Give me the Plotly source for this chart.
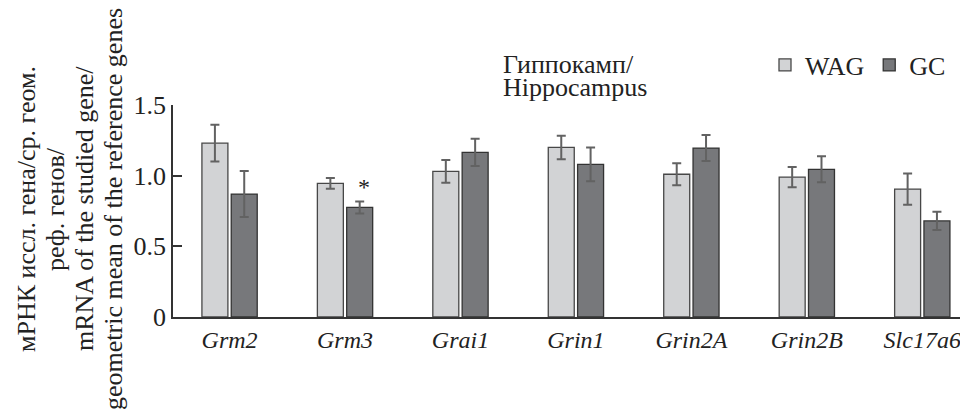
import plotly.graph_objects as go

genes = ["Grm2", "Grm3", "Grai1", "Grin1", "Grin2A", "Grin2B", "Slc17a6"]
wag = [1.23, 0.945, 1.03, 1.20, 1.01, 0.99, 0.905]
wag_err = [0.13, 0.038, 0.08, 0.083, 0.078, 0.072, 0.11]
gc = [0.87, 0.775, 1.165, 1.08, 1.195, 1.045, 0.68]
gc_err = [0.163, 0.042, 0.097, 0.12, 0.092, 0.092, 0.065]
yticks = [0, 0.5, 1.0, 1.5]
ytick_labels = ["0", "0.5", "1.0", "1.5"]
ylabel_lines = [
    "мРНК иссл. гена/ср. геом.",
    "реф. генов/",
    "mRNA of the studied gene/",
    "geometric mean of the reference genes",
]
title_lines = ["Гиппокамп/", "Hippocampus"]

# page body has an 8px margin: figure drawn at (8, 8) inside a 968x412 window
OFF = 8
W, H = 968 - OFF, 412 - OFF
ML, MR, MT, MB = 173 - OFF, 0, 105 - OFF, 95
PW, PH = W - ML - MR, H - MT - MB


def px_x(p):
    # p: pixel in window coordinates
    return (p - OFF - ML) / PW


def px_y(p):
    return (H - MB - (p - OFF)) / PH


FONT = "Liberation Serif"

fig = go.Figure()
fig.add_trace(go.Bar(
    name="WAG", x=genes, y=wag,
    marker=dict(color="#d2d3d5", line=dict(color="#474747", width=1.3)),
    error_y=dict(type="data", array=wag_err, color="#626262", thickness=2, width=4.5),
))
fig.add_trace(go.Bar(
    name="GC", x=genes, y=gc,
    marker=dict(color="#77787b", line=dict(color="#333333", width=1.3)),
    error_y=dict(type="data", array=gc_err, color="#626262", thickness=2, width=4.5),
))

annotations = []
# significance mark
annotations.append(dict(x=1.16, y=gc[1] + gc_err[1] + 0.10, xref="x", yref="y",
                        text="*", showarrow=False,
                        font=dict(family=FONT, size=24, color="#222")))
# title lines
for txt, yc in zip(title_lines, [64, 87.5]):
    annotations.append(dict(x=px_x(501), y=px_y(yc), xref="paper", yref="paper",
                            xanchor="left", yanchor="middle", text=txt, showarrow=False,
                            font=dict(family=FONT, size=26, color="#222")))
# y-axis title lines
for txt, xc in zip(ylabel_lines, [26, 55, 84, 113]):
    annotations.append(dict(x=px_x(xc), y=px_y(209), xref="paper", yref="paper",
                            xanchor="center", yanchor="middle", text=txt, textangle=-90,
                            showarrow=False, font=dict(family=FONT, size=26, color="#222")))

fig.update_layout(
    width=W, height=H, autosize=False,
    margin=dict(l=ML, r=MR, t=MT, b=MB, pad=0),
    paper_bgcolor="white", plot_bgcolor="white",
    barmode="group", bargap=0.492, bargroupgap=0.114,
    font=dict(family=FONT, size=26, color="#222"),
    showlegend=True,
    legend=dict(orientation="h", x=px_x(765), xanchor="left", y=px_y(65), yanchor="middle",
                font=dict(family=FONT, size=26, color="#222"), bgcolor="rgba(0,0,0,0)",
                itemclick=False, traceorder="normal"),
    xaxis=dict(type="category", range=[-0.49, 6.396], showline=True, linecolor="#333",
               linewidth=1.5, ticks="", showgrid=False, zeroline=False,
               tickfont=dict(family=FONT, size=24, style="italic", color="#222")),
    yaxis=dict(range=[0, 1.5], tickvals=yticks, ticktext=ytick_labels, showline=True,
               linecolor="#333", linewidth=1.5, ticks="inside", ticklen=9, tickwidth=1.5,
               tickcolor="#333", showgrid=False, zeroline=False,
               tickfont=dict(family=FONT, size=26, color="#222")),
    annotations=annotations,
)

fig.write_html("out.html")
